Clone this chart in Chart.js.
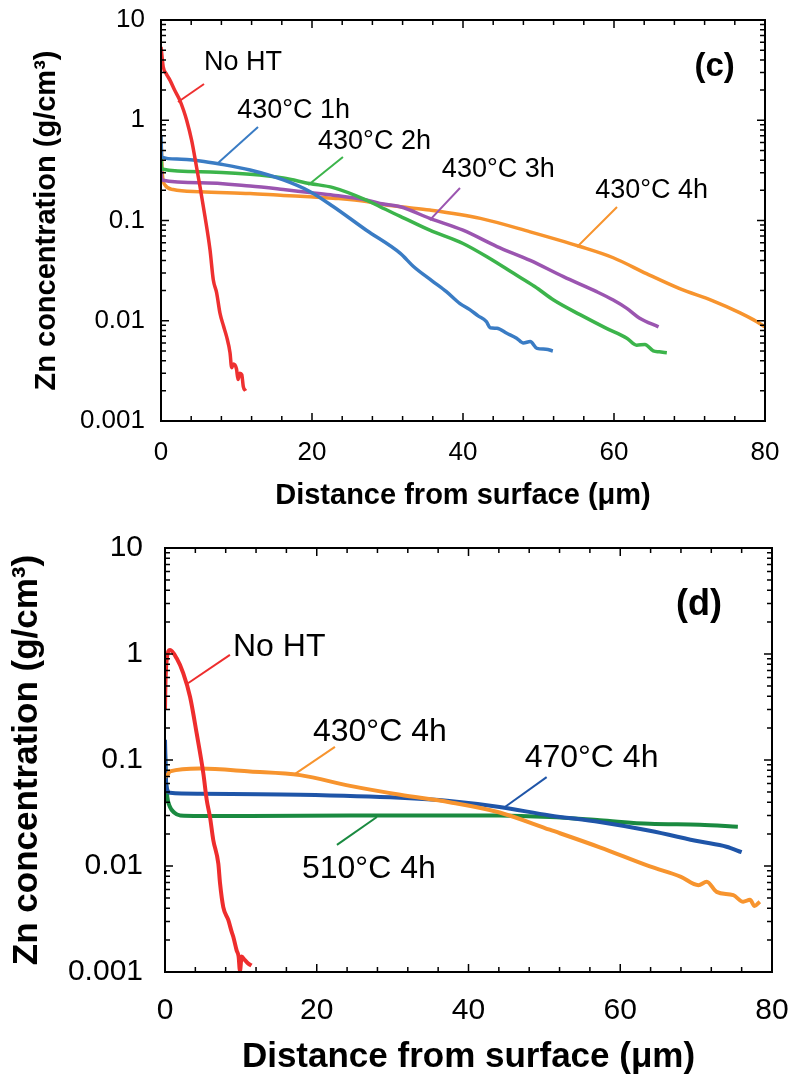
<!DOCTYPE html>
<html>
<head>
<meta charset="utf-8">
<script src="https://cdn.jsdelivr.net/npm/chart.js@4.4.0/dist/chart.umd.min.js"></script>
<style>
  body { margin: 0; background: #fff; }
  canvas { position: absolute; left: 0; }
  #chartC { top: 0; }
  #chartD { top: 530px; }
</style>
</head>
<body>
<canvas id="chartC" width="795" height="530"></canvas>
<canvas id="chartD" width="795" height="556"></canvas>
<script>
// axis ticks
const xTickLabels = [0, 20, 40, 60, 80];
const yTickLabels = [0.001, 0.01, 0.1, 1, 10];

// panel (c): 430°C for 1-4 h
const cNoHtX = [0, 0.15, 0.3, 0.7, 1.2, 1.8, 2.5, 3.0, 3.4, 4.06, 4.7, 5.17, 5.83, 6.49, 6.93, 7.37, 7.81, 8.25, 8.7, 9.14, 9.36, 9.6, 10.0, 10.2, 10.45, 10.7, 10.9, 11.2];
const cNoHtY = [5.4, 4.2, 3.4, 2.9, 2.5, 2.0, 1.58, 1.25, 1.0, 0.63, 0.344, 0.217, 0.109, 0.051, 0.0255, 0.019, 0.0119, 0.009, 0.0069, 0.0048, 0.0034, 0.0037, 0.0033, 0.0026, 0.003, 0.0029, 0.0022, 0.002];
const c1hX = [0, 0.05, 0.1, 2.1, 5.2, 7.8, 11.8, 16.2, 19.7, 22.8, 27.2, 31.7, 33.4, 35.9, 37.8, 39.6, 40.9, 42.0, 43.1, 43.6, 44.5, 45.8, 47.1, 48.0, 48.9, 49.8, 51.0, 51.9];
const c1hY = [0.7, 0.5, 0.43, 0.41, 0.393, 0.366, 0.319, 0.254, 0.195, 0.138, 0.080, 0.047, 0.035, 0.025, 0.0195, 0.0148, 0.0129, 0.0112, 0.0098, 0.0085, 0.0084, 0.0075, 0.0067, 0.006, 0.0062, 0.0053, 0.0052, 0.005];
const c2hX = [0, 0.1, 5.2, 11.8, 16.2, 19.7, 22.8, 27.2, 29.0, 31.7, 35.6, 40.0, 43.5, 46.7, 49.5, 52.0, 55.5, 59.0, 61.7, 63.0, 64.1, 65.2, 66.0, 67.0];
const c2hY = [0.5, 0.327, 0.307, 0.289, 0.265, 0.234, 0.213, 0.16, 0.137, 0.11, 0.080, 0.059, 0.042, 0.0297, 0.022, 0.0161, 0.0115, 0.0084, 0.0067, 0.0057, 0.0058, 0.005, 0.0049, 0.0048];
const c3hX = [0, 0.1, 5.2, 11.8, 16.2, 19.7, 22.8, 27.2, 29.0, 31.7, 35.6, 40.0, 44.5, 48.9, 53.3, 57.7, 59.9, 61.7, 63.4, 65.9];
const c3hY = [0.35, 0.253, 0.238, 0.221, 0.204, 0.19, 0.179, 0.16, 0.148, 0.137, 0.105, 0.080, 0.055, 0.040, 0.0275, 0.0195, 0.0161, 0.0133, 0.0106, 0.0087];
const c4hX = [0, 0.17, 0.53, 1.6, 5.2, 11.8, 16.2, 19.7, 22.8, 27.2, 29.0, 31.7, 35.6, 42.3, 48.9, 55.5, 59.9, 64.3, 68.7, 73.1, 76.7, 78.5, 80.0];
const c4hY = [0.685, 0.297, 0.226, 0.204, 0.194, 0.186, 0.178, 0.173, 0.167, 0.155, 0.146, 0.137, 0.127, 0.105, 0.077, 0.055, 0.0425, 0.0295, 0.0209, 0.0158, 0.012, 0.0102, 0.0087];

// panel (d): 4 h at 430/470/510°C
const dNoHtX = [0, 0.05, 0.22, 0.66, 1.54, 2.4, 3.3, 4.17, 5.05, 5.5, 5.93, 6.36, 7.03, 7.25, 7.68, 8.34, 8.78, 9.0, 9.44, 9.7, 9.88, 10.1, 10.5, 10.98, 11.4];
const dNoHtY = [0.296, 0.5, 0.877, 1.09, 0.91, 0.66, 0.395, 0.179, 0.075, 0.042, 0.029, 0.0176, 0.0105, 0.0069, 0.0041, 0.0031, 0.0024, 0.00215, 0.0016, 0.0014, 0.00102, 0.0014, 0.0013, 0.0012, 0.00115];
const d430X = [0, 0.3, 0.66, 4.6, 11.2, 17.8, 24.4, 31, 37.5, 44.1, 50.7, 57.3, 63.9, 68.0, 70.3, 71.4, 72.7, 74.9, 76.2, 77.1, 77.7, 78.4];
const d430Y = [0.07, 0.072, 0.078, 0.083, 0.078, 0.072, 0.057, 0.047, 0.040, 0.032, 0.022, 0.015, 0.0099, 0.0079, 0.0066, 0.0071, 0.0057, 0.0053, 0.0046, 0.0048, 0.0042, 0.0046];
const d470X = [0, 0.15, 0.66, 4.6, 17.8, 31, 37.5, 44.1, 50.7, 57.3, 63.9, 70.5, 74, 76];
const d470Y = [0.155, 0.06, 0.049, 0.048, 0.047, 0.044, 0.041, 0.036, 0.030, 0.026, 0.0215, 0.017, 0.0152, 0.0135];
const d510X = [0, 0.1, 0.3, 0.66, 1.2, 2.0, 4.6, 11.2, 24.4, 37.5, 44.1, 50.7, 57.3, 63.9, 70.5, 75.5];
const d510Y = [0.117, 0.07, 0.045, 0.036, 0.032, 0.030, 0.0297, 0.0297, 0.030, 0.030, 0.030, 0.029, 0.027, 0.025, 0.0245, 0.0235];

// labels with leader lines, in data units: text at [x, y], line from [x1, y1] to [x2, y2]
const cNotes = [
  { text: 'No HT',    at: [5.7, 3.8],   line: [5.7, 2.3, 2.25, 1.52],    color: '#ee3030' },
  { text: '430°C 1h', at: [10.1, 1.26], line: [12.85, 0.857, 7.55, 0.375], color: '#3a7cc4' },
  { text: '430°C 2h', at: [20.8, 0.607], line: [24.1, 0.43, 19.5, 0.226], color: '#3cb44b' },
  { text: '430°C 3h', at: [37.2, 0.319], line: [39.6, 0.211, 35.6, 0.101], color: '#9b55b0' },
  { text: '430°C 4h', at: [57.5, 0.201], line: [60.4, 0.1365, 55.1, 0.0545], color: '#f7942e' },
  { text: '(c)', at: [76.0, 3.4], bold: true, align: 'right' }
];
const dNotes = [
  { text: 'No HT',    at: [8.96, 1.16],  line: [8.56, 0.98, 3.03, 0.53],    color: '#ee2d2d' },
  { text: '430°C 4h', at: [19.5, 0.184], line: [22.4, 0.133, 16.9, 0.072],  color: '#f7942e' },
  { text: '470°C 4h', at: [47.4, 0.1045], line: [50.3, 0.069, 44.8, 0.036], color: '#1f55a8' },
  { text: '510°C 4h', at: [18.05, 0.0094], line: [22.66, 0.0158, 27.93, 0.029], color: '#1a8a40' },
  { text: '(d)', at: [73.4, 2.9], bold: true, align: 'right' }
];

Chart.defaults.font.family = "'Liberation Sans', Arial, sans-serif";
Chart.defaults.color = '#000';

const pts = (xs, ys) => xs.map((x, i) => ({ x: x, y: ys[i] }));

const frame = {
  id: 'frame',
  afterDraw(chart, args, o) {
    const { ctx, chartArea: a, scales: { x, y } } = chart;
    ctx.save();
    ctx.strokeStyle = '#000';
    ctx.lineWidth = o.lineWidth;
    ctx.strokeRect(a.left, a.top, a.right - a.left, a.bottom - a.top);
    ctx.lineWidth = 1.5;
    ctx.beginPath();
    for (let v = 0; v <= 80; v += 4) {
      const px = x.getPixelForValue(v);
      const len = v % 20 === 0 ? o.major : o.minor;
      ctx.moveTo(px, a.bottom); ctx.lineTo(px, a.bottom - len);
      ctx.moveTo(px, a.top); ctx.lineTo(px, a.top + len);
    }
    yTickLabels.forEach((d, i) => {
      const py = y.getPixelForValue(d);
      ctx.moveTo(a.left, py); ctx.lineTo(a.left + o.major, py);
      ctx.moveTo(a.right, py); ctx.lineTo(a.right - o.major, py);
      if (i === yTickLabels.length - 1) return;
      for (let m = 2; m < 10; m++) {
        const pm = y.getPixelForValue(d * m);
        ctx.moveTo(a.left, pm); ctx.lineTo(a.left + o.minor, pm);
        ctx.moveTo(a.right, pm); ctx.lineTo(a.right - o.minor, pm);
      }
    });
    ctx.stroke();
    ctx.restore();
  }
};

const notes = {
  id: 'notes',
  afterDatasetsDraw(chart, args, o) {
    const { ctx, scales: { x, y } } = chart;
    ctx.save();
    o.items.forEach(n => {
      if (n.line) {
        ctx.strokeStyle = n.color;
        ctx.lineWidth = o.lineWidth;
        ctx.beginPath();
        ctx.moveTo(x.getPixelForValue(n.line[0]), y.getPixelForValue(n.line[1]));
        ctx.lineTo(x.getPixelForValue(n.line[2]), y.getPixelForValue(n.line[3]));
        ctx.stroke();
      }
      ctx.fillStyle = '#000';
      ctx.font = n.bold ? 'bold ' + o.boldSize + "px 'Liberation Sans', Arial"
                        : o.size + "px 'Liberation Sans', Arial";
      ctx.textAlign = n.align || 'left';
      ctx.textBaseline = 'middle';
      ctx.fillText(n.text, x.getPixelForValue(n.at[0]), y.getPixelForValue(n.at[1]));
    });
    ctx.restore();
  }
};

function makeChart(id, datasets, s) {
  return new Chart(document.getElementById(id), {
    type: 'line',
    data: { datasets: datasets.map(d => ({
      data: pts(d.x, d.y), borderColor: d.color, borderWidth: s.lineWidth,
      pointRadius: 0, fill: false, cubicInterpolationMode: 'monotone'
    })) },
    options: {
      responsive: false,
      animation: false,
      layout: { padding: { top: s.padTop, right: s.padRight, left: 0, bottom: 0 } },
      plugins: {
        legend: { display: false },
        tooltip: { enabled: false },
        frame: { lineWidth: 2, major: 8, minor: 5 },
        notes: { items: s.notes, size: s.noteSize, boldSize: s.boldSize, lineWidth: 2 }
      },
      scales: {
        x: {
          type: 'linear', min: 0, max: 80,
          afterBuildTicks: sc => { sc.ticks = xTickLabels.map(v => ({ value: v })); },
          afterFit: sc => { sc.height = s.xHeight; },
          // grid hidden; tickLength only used as the gap before the labels
          grid: { display: false, drawTicks: true, tickLength: s.xTickPad },
          border: { display: false },
          ticks: { font: { size: s.tickSize }, padding: 0, maxRotation: 0 },
          title: { display: true, text: 'Distance from surface (μm)',
                   font: { size: s.titleSize, weight: 'bold' }, padding: { top: 0, bottom: s.xTitlePad } }
        },
        y: {
          type: 'logarithmic', min: 0.001, max: 10,
          afterBuildTicks: sc => { sc.ticks = yTickLabels.map(v => ({ value: v })); },
          afterFit: sc => { sc.width = s.yWidth; },
          grid: { display: false, drawTicks: true, tickLength: s.yTickPad },
          border: { display: false },
          ticks: { font: { size: s.tickSize }, padding: 0, callback: v => String(v) },
          title: { display: true, text: 'Zn concentration (g/cm³)',
                   font: { size: s.titleSize, weight: 'bold' }, padding: { top: s.yTitlePad, bottom: 0 } }
        }
      }
    },
    plugins: [frame, notes]
  });
}

makeChart('chartC', [
  { x: cNoHtX, y: cNoHtY, color: '#ee3030' },
  { x: c1hX, y: c1hY, color: '#3a7cc4' },
  { x: c2hX, y: c2hY, color: '#3cb44b' },
  { x: c3hX, y: c3hY, color: '#9b55b0' },
  { x: c4hX, y: c4hY, color: '#f7942e' }
], {
  lineWidth: 3.5, padTop: 20, padRight: 30, xHeight: 109, yWidth: 161,
  tickSize: 26, titleSize: 29, noteSize: 27, boldSize: 33,
  xTickPad: 16, yTickPad: 16, xTitlePad: 17, yTitlePad: 30, notes: cNotes
});

makeChart('chartD', [
  { x: dNoHtX, y: dNoHtY, color: '#ee2d2d' },
  { x: d430X, y: d430Y, color: '#f7942e' },
  { x: d470X, y: d470Y, color: '#1f55a8' },
  { x: d510X, y: d510Y, color: '#1a8a40' }
], {
  lineWidth: 4, padTop: 18, padRight: 23, xHeight: 114, yWidth: 165,
  tickSize: 30, titleSize: 35, noteSize: 32, boldSize: 36,
  xTickPad: 21, yTickPad: 22, xTitlePad: 8, yTitlePad: 6, notes: dNotes
});
</script>
</body>
</html>
